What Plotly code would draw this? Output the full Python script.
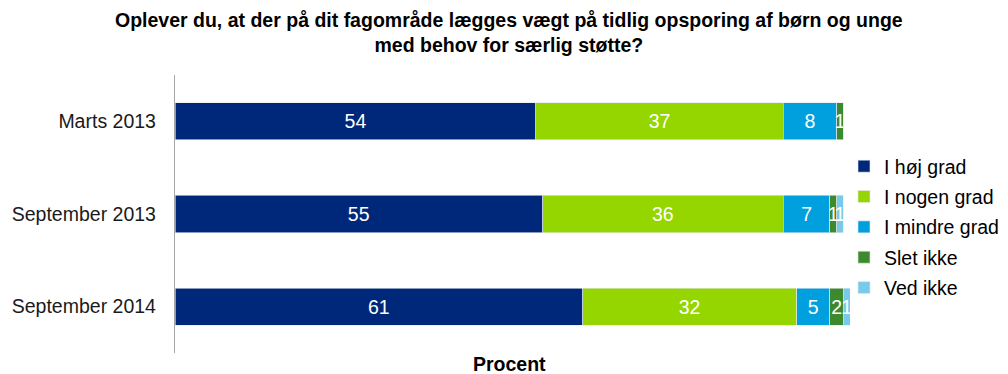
import plotly.graph_objects as go

# Survey periods (top to bottom) and answer categories
periods = ["Marts 2013", "September 2013", "September 2014"]
answers = ["I høj grad", "I nogen grad", "I mindre grad", "Slet ikke", "Ved ikke"]

# Percent per answer category, one value per period
hoej = [54, 55, 61]
nogen = [37, 36, 32]
mindre = [8, 7, 5]
slet_ikke = [1, 1, 2]
ved_ikke = [0, 1, 1]

series = [hoej, nogen, mindre, slet_ikke, ved_ikke]
colors = ["#00287A", "#95D600", "#00A0DE", "#3D8A2E", "#78CAEA"]

FONT = "Liberation Sans, Arial, sans-serif"
FS = 19.5

W, H = 1008, 374
L, R, T, B = 175, 158, 75, 21
PW, PH = W - L - R, H - T - B


def px_x(p):
    return (p - L) / PW


def px_y(p):
    return (H - B - p) / PH


fig = go.Figure()
for i, (name, vals, col) in enumerate(zip(answers, series, colors)):
    labels = [str(v) if v > 0 else "" for v in vals]
    fig.add_trace(go.Bar(
        y=periods, x=vals, name=name, orientation="h",
        marker=dict(color=col, line=dict(color="#E4E8EE", width=0.6)),
        text=labels, textposition="inside", insidetextanchor="middle",
        textfont=dict(color="white", size=FS, family=FONT),
        constraintext="none", cliponaxis=False,
        legendgroup=f"g{i}", hoverinfo="x+name",
    ))

fig.update_layout(
    barmode="stack", bargap=0.6,
    width=W, height=H,
    margin=dict(l=L, r=R, t=T, b=B, autoexpand=False),
    plot_bgcolor="white", paper_bgcolor="white",
    font=dict(family=FONT, size=FS, color="#000000"),
    uniformtext=dict(mode="show", minsize=FS),
    showlegend=True,
    legend=dict(
        x=px_x(844), y=px_y(227), xanchor="left", yanchor="middle",
        traceorder="grouped", tracegroupgap=2,
        font=dict(size=FS, family=FONT, color="#000000"),
        itemwidth=30, bgcolor="rgba(0,0,0,0)",
    ),
    xaxis=dict(range=[0, 101], showticklabels=False, showgrid=False,
               zeroline=False, showline=False, ticks="", fixedrange=True),
    yaxis=dict(categoryorder="array", categoryarray=periods, autorange="reversed",
               showgrid=False, zeroline=False, showline=True,
               linecolor="#A6A6A6", linewidth=1.3, ticks="",
               ticklabelstandoff=14,
               tickfont=dict(size=FS, family=FONT, color="#1a1a1a")),
    annotations=[
        dict(text="<b>Oplever du, at der på dit fagområde lægges vægt på tidlig opsporing af børn og unge<br>med behov for særlig støtte?</b>",
             xref="paper", yref="paper", x=px_x(509), y=px_y(32),
             xanchor="center", yanchor="middle", showarrow=False,
             font=dict(size=FS, family=FONT, color="#000000")),
        dict(text="<b>Procent</b>", xref="paper", yref="paper",
             x=px_x(509), y=px_y(364), xanchor="center", yanchor="middle",
             showarrow=False, font=dict(size=FS, family=FONT, color="#000000")),
    ],
)

fig.write_html("out.html")
